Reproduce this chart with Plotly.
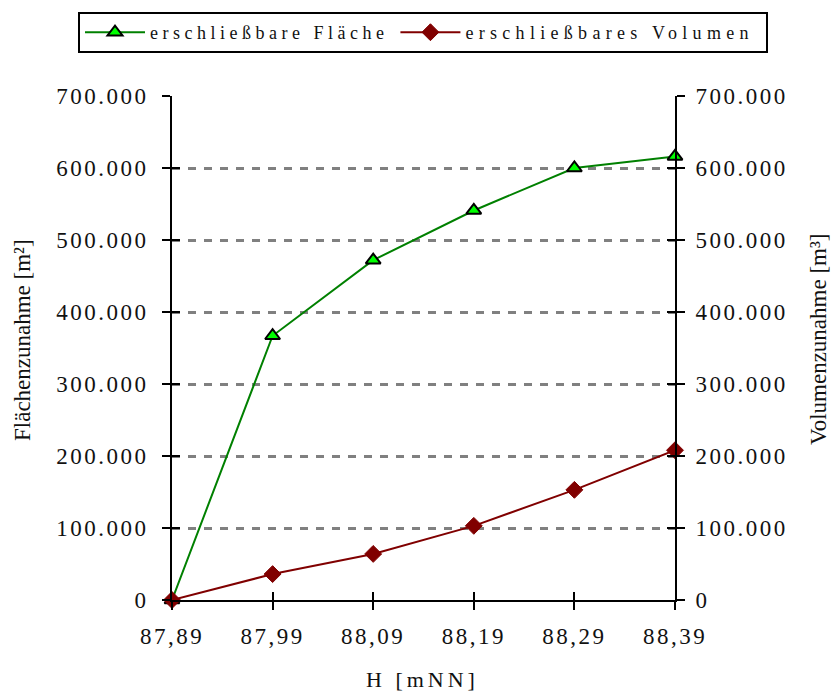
import plotly.graph_objects as go

# Data
heights = [87.89, 87.99, 88.09, 88.19, 88.29, 88.39]
height_labels = ["87,89", "87,99", "88,09", "88,19", "88,29", "88,39"]
flaeche = [0, 367000, 472000, 541000, 600000, 616000]
volumen = [0, 36000, 64000, 103000, 153000, 208000]
y_ticks = [0, 100000, 200000, 300000, 400000, 500000, 600000, 700000]
y_labels = ["0", "100.000", "200.000", "300.000", "400.000", "500.000", "600.000", "700.000"]

FONT = "Liberation Serif"
TXT = "#111111"
TICKFONT = dict(family=FONT, size=23, color=TXT)

L, R, T, B = 172, 156, 96, 92
W, H = 831, 692
PW, PH = W - L - R, H - T - B

def px_x(p):
    return (p - L) / PW

def px_y(p):
    return (H - B - p) / PH

fig = go.Figure()
fig.add_trace(go.Scatter(
    x=heights, y=flaeche, name="erschließbare Fläche", mode="lines+markers",
    line=dict(color="#008000", width=2),
    marker=dict(symbol="triangle-up", size=13, color="#00FF00",
                line=dict(color="black", width=2)),
    yaxis="y", cliponaxis=False,
))
fig.add_trace(go.Scatter(
    x=heights, y=volumen, name="erschließbares Volumen", mode="lines+markers",
    line=dict(color="#800000", width=2),
    marker=dict(symbol="diamond", size=13, color="#800000",
                line=dict(color="#800000", width=1)),
    yaxis="y2", cliponaxis=False,
))

rng = [0, 700000]
xr = [87.89, 88.39]
common_tick = dict(ticklen=8, tickwidth=2, tickcolor="black")
fig.update_layout(
    width=W, height=H,
    margin=dict(l=L, r=R, t=T, b=B, autoexpand=False),
    paper_bgcolor="white", plot_bgcolor="white",
    font=dict(family=FONT, color=TXT),
    showlegend=True,
    legend=dict(
        orientation="h", x=px_x(78), y=px_y(12), xanchor="left", yanchor="top",
        bordercolor="black", borderwidth=2,
        font=dict(family=FONT, size=18, color=TXT),
        itemwidth=60, tracegroupgap=0,
    ),
    xaxis=dict(
        range=xr, tickvals=heights, ticktext=height_labels,
        tickfont=TICKFONT, showgrid=False, zeroline=False, automargin=False,
        showline=True, linecolor="black", linewidth=2,
        ticks="outside", ticklabelstandoff=6, **common_tick,
    ),
    xaxis2=dict(
        range=xr, overlaying="x", side="bottom", tickvals=heights,
        showticklabels=False, showgrid=False, zeroline=False, automargin=False,
        ticks="inside", **common_tick,
    ),
    yaxis=dict(
        range=rng, tickvals=y_ticks, ticktext=y_labels, tickfont=TICKFONT,
        showgrid=True, gridcolor="#808080", gridwidth=2.5, griddash="8px,8px",
        zeroline=False, showline=True, linecolor="black", linewidth=2,
        automargin=False, ticks="outside", ticklabelstandoff=9, **common_tick,
    ),
    yaxis2=dict(
        range=rng, overlaying="y", side="right", tickvals=y_ticks, ticktext=y_labels,
        tickfont=TICKFONT, showgrid=False, zeroline=False,
        showline=True, linecolor="black", linewidth=2,
        automargin=False, ticks="outside", ticklabelstandoff=6, **common_tick,
    ),
    yaxis3=dict(
        range=rng, overlaying="y", side="left", tickvals=y_ticks,
        showticklabels=False, showgrid=False, zeroline=False, automargin=False,
        ticks="inside", **common_tick,
    ),
    yaxis4=dict(
        range=rng, overlaying="y", side="right", tickvals=y_ticks,
        showticklabels=False, showgrid=False, zeroline=False, automargin=False,
        ticks="inside", **common_tick,
    ),
    annotations=[
        dict(text="Flächenzunahme [m²]", xref="paper", yref="paper",
             x=px_x(22), y=px_y(340), textangle=-90, showarrow=False,
             xanchor="center", yanchor="middle",
             font=dict(family=FONT, size=23, color=TXT)),
        dict(text="Volumenzunahme [m³]", xref="paper", yref="paper",
             x=px_x(818), y=px_y(339), textangle=-90, showarrow=False,
             xanchor="center", yanchor="middle",
             font=dict(family=FONT, size=23, color=TXT)),
        dict(text="H [mNN]", xref="paper", yref="paper",
             x=px_x(422), y=px_y(679), showarrow=False,
             xanchor="center", yanchor="middle",
             font=dict(family=FONT, size=22, color=TXT)),
    ],
)
# Invisible helper traces to activate the overlay axes that draw the inner half of the ticks
fig.add_trace(go.Scatter(x=[heights[0]], y=[y_ticks[0]], xaxis="x2", yaxis="y3",
                         mode="markers", marker=dict(opacity=0), showlegend=False, hoverinfo="skip"))
fig.add_trace(go.Scatter(x=[heights[0]], y=[y_ticks[0]], xaxis="x2", yaxis="y4",
                         mode="markers", marker=dict(opacity=0), showlegend=False, hoverinfo="skip"))

# Page without default body margin; reference typography uses wide letter spacing
post = """
document.body.style.margin = '0';
var s = document.createElement('style');
s.textContent = '.xtick text, .ytick text, .y2tick text {letter-spacing: 2.5px;}' +
  ' .legendtext {letter-spacing: 4.6px;}' +
  ' .annotation[data-index="2"] text {letter-spacing: 4px;}';
document.head.appendChild(s);
var gd = document.getElementById('{plot_id}');
Plotly.relayout(gd, {'legend.font.size': 18.01}).then(function(){
  var texts = gd.querySelectorAll('.legend .legendtext');
  if (texts.length > 1) {
    texts[0].style.letterSpacing = '4.5px';
    texts[1].style.letterSpacing = '5.3px';
  }
  var extra = 22;
  var bg = gd.querySelector('.legend .bg');
  if (bg) { bg.setAttribute('width', parseFloat(bg.getAttribute('width')) + extra); }
  var clips = gd.querySelectorAll('clipPath[id^="legend"] rect');
  clips.forEach(function(r){ r.setAttribute('width', parseFloat(r.getAttribute('width')) + extra); });
});
"""
fig.write_html("out.html", post_script=post, config={"displayModeBar": False})
